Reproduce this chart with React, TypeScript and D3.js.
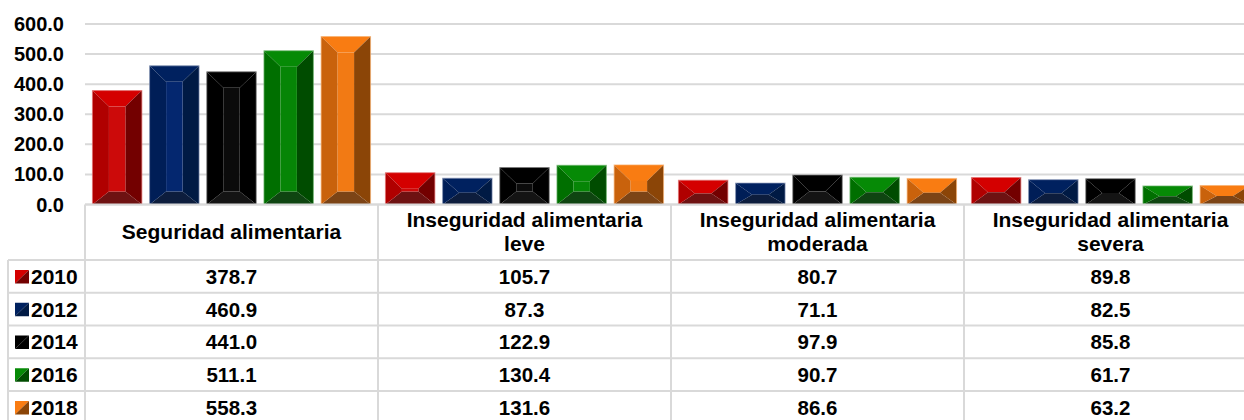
import React from "react";
import * as d3 from "d3";

const categories = [
  "Seguridad alimentaria",
  "Inseguridad alimentaria leve",
  "Inseguridad alimentaria moderada",
  "Inseguridad alimentaria severa",
];
const categoryLines = [
  ["Seguridad alimentaria"],
  ["Inseguridad alimentaria", "leve"],
  ["Inseguridad alimentaria", "moderada"],
  ["Inseguridad alimentaria", "severa"],
];
const years = ["2010", "2012", "2014", "2016", "2018"];
const values2010 = [378.7, 105.7, 80.7, 89.8];
const values2012 = [460.9, 87.3, 71.1, 82.5];
const values2014 = [441.0, 122.9, 97.9, 85.8];
const values2016 = [511.1, 130.4, 90.7, 61.7];
const values2018 = [558.3, 131.6, 86.6, 63.2];
const seriesValues = [values2010, values2012, values2014, values2016, values2018];
const yTicks = [0, 100, 200, 300, 400, 500, 600];

// face colours: top, left, center, right, bottom
const palettes = [
  { top: "#d40000", left: "#b00000", center: "#cc0a0a", right: "#730000", bottom: "#6e1212", stroke: "#e27070" },
  { top: "#00215f", left: "#001e57", center: "#04276f", right: "#001a44", bottom: "#0d1d3d", stroke: "#7f8fb0" },
  { top: "#000000", left: "#000000", center: "#0b0b0b", right: "#000000", bottom: "#141414", stroke: "#777777" },
  { top: "#068a06", left: "#006f00", center: "#068506", right: "#004c00", bottom: "#0f4511", stroke: "#70b870" },
  { top: "#f97c12", left: "#c9620c", center: "#f27a14", right: "#8b4507", bottom: "#7c4416", stroke: "#f8b070" },
];

const W = 1244;
const H = 420;
const plotLeft = 85;
const colW = 293;
const plotTop = 24;
const baseY = 204.5;
const headerBottom = 260;
const rowH = 32.75;
const legendLeft = 8;
const gridColor = "#d9d9d9";
const font = "'Liberation Sans', Arial, sans-serif";

function Bar({ x, w, y, y0, pal }: any) {
  const h = y0 - y;
  const b = Math.min(16.5, w / 2);
  const t = Math.min(16, h * 0.55);
  const bb = Math.min(13, h * 0.45);
  const pts = (arr: number[][]) => arr.map((p) => p.join(",")).join(" ");
  return (
    <g>
      <polygon points={pts([[x, y], [x + w, y], [x + w - b, y + t], [x + b, y + t]])} fill={pal.top} />
      <polygon points={pts([[x, y0], [x + w, y0], [x + w - b, y0 - bb], [x + b, y0 - bb]])} fill={pal.bottom} />
      <polygon points={pts([[x, y], [x + b, y + t], [x + b, y0 - bb], [x, y0]])} fill={pal.left} />
      <polygon points={pts([[x + w, y], [x + w - b, y + t], [x + w - b, y0 - bb], [x + w, y0]])} fill={pal.right} />
      {h - t - bb > 0 && <rect x={x + b} y={y + t} width={w - 2 * b} height={h - t - bb} fill={pal.center} />}
      <rect x={x} y={y} width={w} height={h} fill="none" stroke={pal.stroke} strokeWidth={1} strokeOpacity={0.7} />
    </g>
  );
}

export default function App() {
  const x0 = d3.scaleBand<string>().domain(categories).range([plotLeft, plotLeft + colW * categories.length]).padding(0);
  const x1 = d3.scaleBand<string>().domain(years).range([0, x0.bandwidth()]).paddingInner(0.135).paddingOuter(0.13);
  const y = d3.scaleLinear().domain([0, 600]).range([baseY, plotTop]);
  const tableRight = plotLeft + colW * categories.length;
  const tableBottom = headerBottom + rowH * years.length;

  return (
    <svg width={W} height={H} style={{ position: "absolute", left: 0, top: 0, background: "#fff" }} fontFamily={font}>
      {/* gridlines */}
      {yTicks.map((t) => (
        <line key={t} x1={plotLeft} x2={tableRight} y1={y(t)} y2={y(t)} stroke={gridColor} strokeWidth={2} />
      ))}
      {/* y labels */}
      {yTicks.map((t) => (
        <text key={"l" + t} x={64} y={y(t) + 7} textAnchor="end" fontSize={20} fontWeight="bold" fill="#000">
          {t.toFixed(1)}
        </text>
      ))}
      {/* bars */}
      {categories.map((c, ci) =>
        years.map((yr, si) => {
          const v = seriesValues[si][ci];
          return (
            <Bar
              key={c + yr}
              x={(x0(c) as number) + (x1(yr) as number)}
              w={x1.bandwidth()}
              y={y(v)}
              y0={y(0)}
              pal={palettes[si]}
            />
          );
        })
      )}
      {/* table lines */}
      <line x1={plotLeft} x2={tableRight} y1={baseY} y2={baseY} stroke={gridColor} strokeWidth={2} />
      {years.map((yr, i) => (
        <line key={"h" + yr} x1={legendLeft} x2={tableRight} y1={headerBottom + i * rowH} y2={headerBottom + i * rowH} stroke={gridColor} strokeWidth={2} />
      ))}
      <line x1={legendLeft} x2={tableRight} y1={tableBottom} y2={tableBottom} stroke={gridColor} strokeWidth={2} />
      <line x1={legendLeft} x2={legendLeft} y1={headerBottom} y2={tableBottom} stroke={gridColor} strokeWidth={2} />
      {categories.map((c) => (
        <line key={"v" + c} x1={x0(c) as number} x2={x0(c) as number} y1={baseY} y2={tableBottom} stroke={gridColor} strokeWidth={2} />
      ))}
      <line x1={tableRight} x2={tableRight} y1={baseY} y2={tableBottom} stroke={gridColor} strokeWidth={2} />
      {/* category headers */}
      {categories.map((c, ci) => {
        const cx = (x0(c) as number) + x0.bandwidth() / 2;
        const lines = categoryLines[ci];
        const bases = lines.length === 1 ? [238.5] : [226.5, 250.5];
        return (
          <g key={"c" + c}>
            {lines.map((ln, li) => (
              <text key={li} x={cx} y={bases[li]} textAnchor="middle" fontSize={21} fontWeight="bold" fill="#000">
                {ln}
              </text>
            ))}
          </g>
        );
      })}
      {/* rows */}
      {years.map((yr, si) => {
        const mid = headerBottom + si * rowH + rowH / 2;
        const pal = palettes[si];
        return (
          <g key={"r" + yr}>
            <polygon points={`15,${mid - 6.5} 29,${mid - 6.5} 15,${mid + 7}`} fill={pal.top} />
            <polygon points={`29,${mid - 6.5} 29,${mid + 7} 15,${mid + 7}`} fill={pal.right} />
            <text x={31} y={mid + 7.5} fontSize={21} fontWeight="bold" fill="#000">
              {yr}
            </text>
            {categories.map((c, ci) => (
              <text
                key={c}
                x={(x0(c) as number) + x0.bandwidth() / 2}
                y={mid + 7.5}
                textAnchor="middle"
                fontSize={20.5}
                fontWeight="bold"
                fill="#000"
              >
                {seriesValues[si][ci].toFixed(1)}
              </text>
            ))}
          </g>
        );
      })}
    </svg>
  );
}
